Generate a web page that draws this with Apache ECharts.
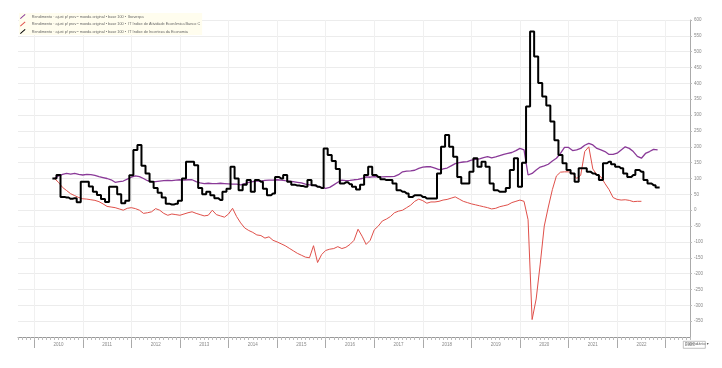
<!DOCTYPE html>
<html><head><meta charset="utf-8">
<script src="https://cdn.jsdelivr.net/npm/echarts@6/dist/echarts.min.js"></script>
<style>html,body{margin:0;padding:0;background:#fff}#c{width:722px;height:368px}</style>
</head><body><div id="c"></div>
<script>
// Axis months: 2009-09 .. 2023-07 ; series start 2010-06
const axisStart = [2009, 9];
const axisEnd = [2023, 7];
const seriesStart = '2010-06';

const nameIbov = 'Rendimento · ajust p/ prov • moeda original • base 100 •  Ibovespa';
const nameAtiv = 'Rendimento · ajust p/ prov • moeda original • base 100 •  IT Índice de Atividade Econômica Banco C';
const nameInc = 'Rendimento · ajust p/ prov • moeda original • base 100 •  IT Índice de Incerteza da Economia';

const ibovespa = [100,108,113,116,114,116,113,111,113,112, 110,106,103,100,96,88,90,92,98,104,
 108,106,100,93,90,90,92,93,94,93, 95,96,95,96,96,90,86,84,85,84,
 84,85,84,83,82,82,80,84,88,90, 92,92,94,95,95,96,95,93,92,90,
 88,86,82,80,78,75,72,69,72,80, 88,95,93,94,96,97,100,105,104,106,
 105,105,106,106,107,112,121,123,124,126, 132,136,137,137,133,128,130,133,140,147,
 150,152,153,158,160,162,166,169,165,168, 172,176,179,182,188,195,190,111,116,127,
 136,140,145,155,164,179,198,198,188,190, 195,205,211,206,195,190,185,176,176,180,
 190,200,195,185,170,164,179,185,192,190];

const atividade = [100,88,72,62,52,46,40,36,35,33, 31,27,20,12,10,8,4,0,6,8,
 5,0,-10,-8,-5,5,0,-10,-16,-12, -14,-16,-12,-8,-5,-10,-14,-18,-16,0,
 -14,-18,-22,-12,6,-20,-40,-56,-64,-70, -78,-80,-88,-84,-95,-100,-106,-112,-120,-128,
 -136,-142,-148,-150,-112,-165,-140,-127,-123,-121, -115,-121,-117,-108,-95,-60,-82,-108,-95,-62,
 -50,-34,-28,-20,-8,-3,0,8,16,28, 35,30,22,26,26,28,32,34,38,42,
 35,28,24,20,17,14,11,8,4,6, 11,14,17,24,28,32,28,-30,-345,-280,
 -170,-50,10,65,108,120,121,121,117,100, 110,185,200,130,112,105,84,65,40,34,
 32,33,31,27,28,28];

const incerteza = [100,111,42,40,36,38,25,90,90,75, 58,48,35,26,74,74,50,22,30,110,
 190,206,140,116,90,70,55,40,20,18, 20,30,100,153,153,142,70,50,58,47,
 38,32,58,68,137,100,63,80,95,58, 95,90,68,47,53,105,100,111,90,80,
 78,76,74,95,79,74,70,195,174,155, 130,84,88,82,74,65,80,111,137,111,
 105,98,95,95,84,63,58,53,42,47, 47,42,37,37,37,116,200,237,200,169,
 105,84,84,121,164,137,153,137,84,63, 58,58,70,127,164,74,150,327,564,485,
 401,359,330,280,221,174,148,127,116,90, 132,132,121,116,111,95,148,153,145,137,
 132,116,105,111,127,121,95,84,79,72];

// build monthly categories
const months = [];
{
  let y = axisStart[0], m = axisStart[1];
  while (y < axisEnd[0] || (y === axisEnd[0] && m <= axisEnd[1])) {
    months.push(y + '-' + String(m).padStart(2, '0'));
    m++; if (m > 12) { m = 1; y++; }
  }
}
const off = months.indexOf(seriesStart);
function pad(arr) {
  const out = new Array(months.length).fill('-');
  arr.forEach((v, i) => { out[off + i] = v; });
  return out;
}
const isJan = (i) => months[i].endsWith('-01');
const isJul = (i) => months[i].endsWith('-07');

const chart = echarts.init(document.getElementById('c'), null, {renderer: 'canvas'});
const icon = 'path://M0,8 L8,1 L9,2.2 L1,9.2 Z';
chart.setOption({
  animation: false,
  backgroundColor: '#fff',
  grid: {left: 18, right: 32, top: 20, bottom: 31},
  legend: {
    orient: 'vertical', left: 19, top: 13, itemGap: 2.5, itemWidth: 8, itemHeight: 5,
    backgroundColor: '#fffdee', padding: [1, 2, 1, 1],
    textStyle: {fontSize: 3.8, color: '#666', fontFamily: 'Liberation Sans'},
    data: [
      {name: nameIbov, icon: icon},
      {name: nameAtiv, icon: icon},
      {name: nameInc, icon: icon}
    ]
  },
  xAxis: [{
    type: 'category', data: months, boundaryGap: false,
    axisLine: {onZero: false, lineStyle: {color: '#999', width: 1}},
    axisTick: {interval: (i) => isJan(i), length: 11, lineStyle: {color: '#aaa'}},
    axisLabel: {interval: (i) => isJul(i), formatter: (v) => v.slice(0, 4), fontSize: 4.5, color: '#888', margin: 5, fontFamily: 'Liberation Sans'},
    splitLine: {show: true, interval: (i) => isJan(i), lineStyle: {color: '#f0f0f0', width: 1}}
  }, {
    type: 'category', data: months, boundaryGap: false, position: 'bottom',
    axisLine: {show: false, onZero: false},
    axisTick: {interval: 0, length: 3, lineStyle: {color: '#bbb'}},
    axisLabel: {show: false}, splitLine: {show: false}
  }],
  yAxis: {
    type: 'value', position: 'right', min: -400, max: 600, interval: 50,
    axisLine: {show: true, lineStyle: {color: '#aaa'}},
    axisTick: {show: true, length: 2, lineStyle: {color: '#bbb'}},
    axisLabel: {fontSize: 4.5, color: '#888', margin: 4, showMinLabel: false, fontFamily: 'Liberation Sans'},
    splitLine: {lineStyle: {color: '#ececec', width: 1}}
  },
  series: [
    {name: nameAtiv, type: 'line', data: pad(atividade), showSymbol: false, smooth: false,
     lineStyle: {color: '#e0504a', width: 1}, itemStyle: {color: '#e0504a'}},
    {name: nameIbov, type: 'line', data: pad(ibovespa), showSymbol: false,
     lineStyle: {color: '#8a3a98', width: 1.3}, itemStyle: {color: '#8a3a98'}},
    {name: nameInc, type: 'line', data: pad(incerteza), showSymbol: false, step: 'middle',
     lineStyle: {color: '#000', width: 2}, itemStyle: {color: '#000'}}
  ],
  graphic: [
    {type: 'rect', left: 683, top: 341, shape: {width: 22, height: 7}, style: {fill: '#fff', stroke: '#999', lineWidth: 0.6}},
    {type: 'text', left: 685, top: 342.5, style: {text: 'Calendário ▾', fontSize: 3.8, fill: '#555', fontFamily: 'DejaVu Sans'}}
  ]
});
</script></body></html>
